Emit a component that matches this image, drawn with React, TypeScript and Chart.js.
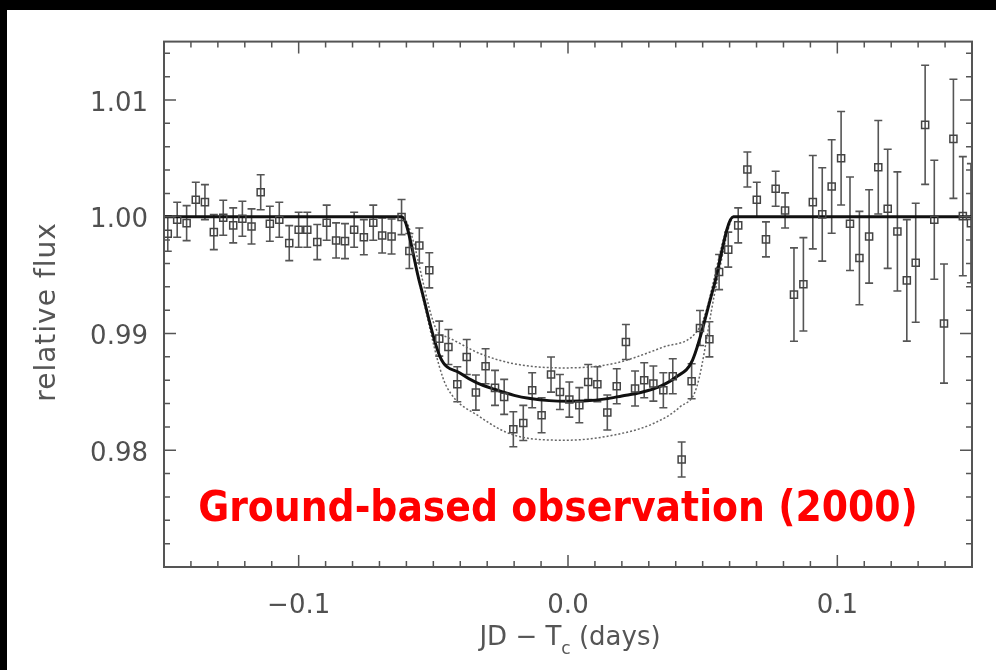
import React, { useEffect, useRef } from "react";
import { Chart, registerables } from "chart.js";

Chart.register(...registerables);

// ---------- data ----------
const obsX = [
  -0.1486, -0.1451, -0.1416, -0.1382, -0.1348, -0.1315, -0.128, -0.1243, -0.1209, -0.1175,
  -0.1141, -0.1107, -0.1072, -0.1035, -0.1, -0.0968, -0.0931, -0.0896, -0.0861, -0.0828,
  -0.0794, -0.0758, -0.0723, -0.069, -0.0655, -0.0618, -0.0589, -0.0552, -0.0515, -0.0478,
  -0.0444, -0.0411, -0.0376, -0.0342, -0.0306, -0.0271, -0.0237, -0.0203, -0.0166, -0.0133,
  -0.0098, -0.0063, -0.003, 0.0005, 0.0042, 0.0075, 0.0109, 0.0146, 0.0181, 0.0215,
  0.0249, 0.0283, 0.0317, 0.0354, 0.0389, 0.0422, 0.0459, 0.049, 0.0525, 0.0561,
  0.0595, 0.0632, 0.0666, 0.0701, 0.0735, 0.0771, 0.0806, 0.0839, 0.0874, 0.0909,
  0.0944, 0.0979, 0.1014, 0.1047, 0.1082, 0.1118, 0.1152, 0.1187, 0.1223, 0.1258,
  0.1291, 0.1326, 0.136, 0.1396, 0.1431, 0.1466, 0.1496,
];
const obsY = [
  0.99855, 0.99974, 0.99945, 1.00145, 1.00125, 0.99868, 0.99991, 0.99926, 0.99983, 0.99917,
  1.0021, 0.9994, 0.99974, 0.99774, 0.99889, 0.99889, 0.99783, 0.99949, 0.99797, 0.99791,
  0.99889, 0.99825, 0.99949, 0.9984, 0.99831, 0.99997, 0.99706, 0.99754, 0.99541, 0.98956,
  0.98884, 0.98565, 0.98799, 0.98494, 0.98719, 0.98534, 0.98457, 0.9818, 0.98234, 0.98514,
  0.983, 0.98648, 0.98499, 0.98434, 0.98386, 0.98585, 0.98565, 0.98323, 0.98548, 0.98927,
  0.98529, 0.986, 0.98571, 0.98514, 0.98634, 0.97921, 0.98591, 0.99047, 0.9895, 0.99526,
  0.99718, 0.99926, 1.00405, 1.00145, 0.99806, 1.0024, 1.00054, 0.99333, 0.99421, 1.00125,
  1.0002, 1.00259, 1.00501, 0.9994, 0.99646, 0.99831, 1.00424, 1.00068, 0.99874, 0.99455,
  0.99606, 1.00787, 0.99974, 0.99085, 1.00667, 1.00005, 0.99945,
];
const obsErr = [
  0.0015, 0.0015, 0.0015, 0.0015, 0.0015, 0.0015, 0.0015, 0.0015, 0.0015, 0.0015,
  0.0015, 0.0015, 0.0015, 0.0015, 0.0015, 0.0015, 0.0015, 0.0015, 0.0015, 0.0015,
  0.0015, 0.0015, 0.0015, 0.0015, 0.0015, 0.0015, 0.0015, 0.0015, 0.0015, 0.0015,
  0.0015, 0.0015, 0.0015, 0.0015, 0.0015, 0.0015, 0.0015, 0.0015, 0.0015, 0.0015,
  0.0015, 0.0015, 0.0015, 0.0015, 0.0015, 0.0015, 0.0015, 0.0015, 0.0015, 0.0015,
  0.0015, 0.0015, 0.0015, 0.0015, 0.0015, 0.0015, 0.0015, 0.0015, 0.0015, 0.0015,
  0.0015, 0.0015, 0.0015, 0.0015, 0.0015, 0.0015, 0.0015, 0.004, 0.004, 0.004,
  0.004, 0.004, 0.004, 0.004, 0.004, 0.004, 0.004, 0.0051, 0.0051, 0.0052,
  0.0051, 0.0051, 0.0051, 0.0051, 0.0051, 0.0051, 0.0051,
];

const modelX = [-0.15, -0.0618, -0.055, -0.0475, -0.04, -0.034, -0.027, -0.02, -0.014, -0.007, 0, 0.007, 0.014, 0.02, 0.027, 0.034, 0.04, 0.0462, 0.054, 0.0614, 0.15];
const modelY = [1, 1, 0.9943, 0.988, 0.9866, 0.9858, 0.9852, 0.9847, 0.98443, 0.98425, 0.9842, 0.98423, 0.9844, 0.98465, 0.98495, 0.98545, 0.98625, 0.9877, 0.9939, 1, 1];

const upperX = [-0.15, -0.0618, -0.0483, -0.045, -0.0327, -0.0203, -0.0017, 0.0168, 0.0354, 0.049, 0.0618, 0.15];
const upperY = [1, 1, 0.9901, 0.9897, 0.98828, 0.98742, 0.98705, 0.98742, 0.98884, 0.99055, 1, 1];

const lowerX = [-0.15, -0.0618, -0.0552, -0.0478, -0.045, -0.0327, -0.0178, -0.0005, 0.0168, 0.0317, 0.0416, 0.0478, 0.0552, 0.0618, 0.15];
const lowerY = [1, 1, 0.9943, 0.9872, 0.98542, 0.98286, 0.98115, 0.98086, 0.98129, 0.98229, 0.98371, 0.98542, 0.99429, 1, 1];

const xTickValues = [-0.1, 0, 0.1];
const xTickLabels = ["\u22120.1", "0.0", "0.1"];
const yTickValues = [0.98, 0.99, 1.0, 1.01];
const yTickLabels = ["0.98", "0.99", "1.00", "1.01"];

const yTitle = "relative flux";
const xTitleMain = "JD \u2212 T";
const xTitleSub = "c";
const xTitleTail = " (days)";
const annotationText = "Ground-based observation (2000)";

// ---------- decoration plugin ----------
const decor = {
  id: "decor",
  beforeDatasetsDraw(chart: any) {
    const { ctx, chartArea, scales } = chart;
    const xs = scales.x;
    const ys = scales.y;
    ctx.save();
    ctx.beginPath();
    ctx.rect(chartArea.left, chartArea.top, chartArea.right - chartArea.left, chartArea.bottom - chartArea.top);
    ctx.clip();
    ctx.strokeStyle = "#555";
    ctx.lineWidth = 1.6;
    for (let i = 0; i < obsX.length; i++) {
      const px = xs.getPixelForValue(obsX[i]);
      const y1 = ys.getPixelForValue(obsY[i] + obsErr[i]);
      const y2 = ys.getPixelForValue(obsY[i] - obsErr[i]);
      ctx.beginPath();
      ctx.moveTo(px, y1);
      ctx.lineTo(px, y2);
      ctx.moveTo(px - 4, y1);
      ctx.lineTo(px + 4, y1);
      ctx.moveTo(px - 4, y2);
      ctx.lineTo(px + 4, y2);
      ctx.stroke();
    }
    ctx.restore();
  },
  afterDatasetsDraw(chart: any) {
    const { ctx, chartArea, scales } = chart;
    const xs = scales.x;
    const ys = scales.y;
    const { left, right, top, bottom } = chartArea;
    ctx.save();
    // frame
    ctx.strokeStyle = "#555";
    ctx.lineWidth = 2;
    ctx.strokeRect(left, top, right - left, bottom - top);
    // inward ticks
    ctx.lineWidth = 1.5;
    ctx.beginPath();
    for (let k = -15; k <= 15; k++) {
      const px = xs.getPixelForValue(k / 100);
      const len = k % 10 === 0 ? 12 : 6;
      ctx.moveTo(px, bottom);
      ctx.lineTo(px, bottom - len);
      ctx.moveTo(px, top);
      ctx.lineTo(px, top + len);
    }
    for (let k = 970; k <= 1015; k += 2) {
      const py = ys.getPixelForValue(k / 1000);
      const len = k % 10 === 0 ? 12 : 6;
      ctx.moveTo(left, py);
      ctx.lineTo(left + len, py);
      ctx.moveTo(right, py);
      ctx.lineTo(right - len, py);
    }
    ctx.stroke();

    // y title
    ctx.fillStyle = "#555";
    ctx.save();
    ctx.translate(41, 302);
    ctx.rotate(-Math.PI / 2);
    ctx.font = "28px 'DejaVu Sans'";
    (ctx as any).letterSpacing = "1px";
    ctx.textAlign = "center";
    ctx.textBaseline = "middle";
    ctx.fillText(yTitle, 0, 0);
    ctx.restore();

    // x title with subscript
    ctx.save();
    ctx.textBaseline = "alphabetic";
    ctx.textAlign = "left";
    const mainFont = "26px 'DejaVu Sans'";
    const subFont = "17px 'DejaVu Sans'";
    ctx.font = mainFont;
    const w1 = ctx.measureText(xTitleMain).width;
    const w3 = ctx.measureText(xTitleTail).width;
    ctx.font = subFont;
    const w2 = ctx.measureText(xTitleSub).width;
    const cx = 563;
    let sx = cx - (w1 + w2 + w3) / 2;
    const base = 635;
    ctx.font = mainFont;
    ctx.fillText(xTitleMain, sx, base);
    sx += w1;
    ctx.font = subFont;
    ctx.fillText(xTitleSub, sx, base + 9);
    sx += w2;
    ctx.font = mainFont;
    ctx.fillText(xTitleTail, sx, base);
    ctx.restore();

    // annotation
    ctx.font = "bold 42px 'DejaVu Sans Condensed', 'DejaVu Sans'";
    ctx.fillStyle = "#ff0000";
    ctx.textAlign = "center";
    ctx.textBaseline = "alphabetic";
    ctx.fillText(annotationText, 551, 511);
    ctx.restore();
  },
};

export default function App() {
  const ref = useRef<HTMLCanvasElement>(null);
  useEffect(() => {
    const prev = document.body.style.margin;
    document.body.style.margin = "0";
    const canvas = ref.current;
    if (!canvas) return;
    const chart = new Chart(canvas, {
      type: "scatter",
      data: {
        datasets: [
          {
            label: "observations",
            data: obsX.map((x, i) => ({ x, y: obsY[i] })),
            showLine: false,
            pointStyle: "rect",
            pointRadius: 5,
            pointBorderWidth: 1.5,
            pointBorderColor: "#444",
            pointBackgroundColor: "rgba(0,0,0,0)",
            order: 0,
          },
          {
            label: "model",
            data: modelX.map((x, i) => ({ x, y: modelY[i] })),
            showLine: true,
            borderColor: "#111",
            borderWidth: 3,
            pointRadius: 0,
            cubicInterpolationMode: "monotone",
            order: 1,
          },
          {
            label: "upper",
            data: upperX.map((x, i) => ({ x, y: upperY[i] })),
            showLine: true,
            borderColor: "#666",
            borderWidth: 1.5,
            borderDash: [2, 2],
            pointRadius: 0,
            cubicInterpolationMode: "monotone",
            order: 2,
          },
          {
            label: "lower",
            data: lowerX.map((x, i) => ({ x, y: lowerY[i] })),
            showLine: true,
            borderColor: "#666",
            borderWidth: 1.5,
            borderDash: [2, 2],
            pointRadius: 0,
            cubicInterpolationMode: "monotone",
            order: 3,
          },
        ],
      } as any,
      options: {
        responsive: false,
        animation: false,
        devicePixelRatio: 1,
        events: [],
        layout: { padding: { left: 0, right: 24, top: 31, bottom: 0 } },
        plugins: { legend: { display: false }, tooltip: { enabled: false } },
        scales: {
          x: {
            type: "linear",
            min: -0.15,
            max: 0.15,
            grid: { display: false, drawTicks: false },
            border: { display: false },
            afterBuildTicks: (s: any) => {
              s.ticks = xTickValues.map((v) => ({ value: v }));
            },
            afterFit: (s: any) => {
              s.height = 103;
            },
            ticks: {
              callback: (_v: any, i: number) => xTickLabels[i],
              padding: 24,
              maxRotation: 0,
              autoSkip: false,
              color: "#505050",
              font: { family: "'DejaVu Sans'", size: 26 },
            },
          },
          y: {
            type: "linear",
            min: 0.97,
            max: 1.015,
            grid: { display: false, drawTicks: false },
            border: { display: false },
            afterBuildTicks: (s: any) => {
              s.ticks = yTickValues.map((v) => ({ value: v }));
            },
            afterFit: (s: any) => {
              s.width = 157;
            },
            ticks: {
              callback: (_v: any, i: number) => yTickLabels[i],
              padding: 16,
              labelOffset: 4,
              autoSkip: false,
              color: "#505050",
              font: { family: "'DejaVu Sans'", size: 26 },
            },
          },
        },
      } as any,
      plugins: [decor],
    });
    return () => {
      chart.destroy();
      document.body.style.margin = prev;
    };
  }, []);
  return (
    <div style={{ position: "fixed", left: 0, top: 0, width: 996, height: 670, background: "#000", overflow: "hidden" }}>
      <div style={{ position: "absolute", left: 7, top: 10, width: 989, height: 660, background: "#fff" }}>
        <canvas ref={ref} width={989} height={660} style={{ display: "block", width: 989, height: 660 }} />
      </div>
    </div>
  );
}
